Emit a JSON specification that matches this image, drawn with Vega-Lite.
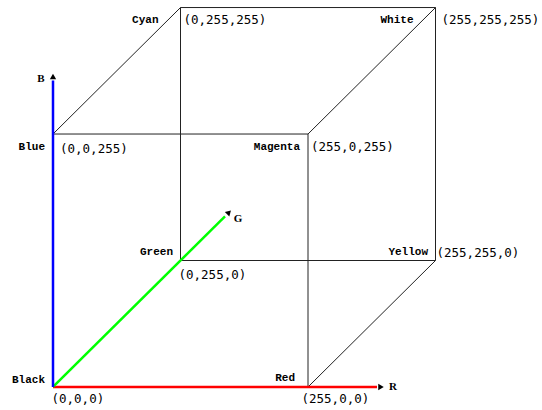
{
  "$schema": "https://vega.github.io/schema/vega-lite/v6.json",
  "description": "RGB colour cube in oblique projection: x = R + G/2, y = B + G/2",
  "width": 542,
  "height": 410,
  "autosize": {"type": "fit", "contains": "padding"},
  "padding": 0,
  "background": "white",
  "config": {"view": {"stroke": null}},
  "datasets": {
    "vertices": [
      {"name": "Black", "rgb": "(0,0,0)", "x": 0, "y": 0},
      {"name": "Red", "rgb": "(255,0,0)", "x": 255, "y": 0},
      {"name": "Blue", "rgb": "(0,0,255)", "x": 0, "y": 255},
      {"name": "Magenta", "rgb": "(255,0,255)", "x": 255, "y": 255},
      {"name": "Green", "rgb": "(0,255,0)", "x": 127.5, "y": 127.5},
      {"name": "Yellow", "rgb": "(255,255,0)", "x": 382.5, "y": 127.5},
      {"name": "Cyan", "rgb": "(0,255,255)", "x": 127.5, "y": 382.5},
      {"name": "White", "rgb": "(255,255,255)", "x": 382.5, "y": 382.5}
    ],
    "edges": [
      {"from": "Red", "to": "Magenta", "x": 255, "y": 0, "x2": 255, "y2": 255},
      {"from": "Red", "to": "Yellow", "x": 255, "y": 0, "x2": 382.5, "y2": 127.5},
      {"from": "Blue", "to": "Magenta", "x": 0, "y": 255, "x2": 255, "y2": 255},
      {"from": "Blue", "to": "Cyan", "x": 0, "y": 255, "x2": 127.5, "y2": 382.5},
      {"from": "Green", "to": "Yellow", "x": 127.5, "y": 127.5, "x2": 382.5, "y2": 127.5},
      {"from": "Green", "to": "Cyan", "x": 127.5, "y": 127.5, "x2": 127.5, "y2": 382.5},
      {"from": "Magenta", "to": "White", "x": 255, "y": 255, "x2": 382.5, "y2": 382.5},
      {"from": "Yellow", "to": "White", "x": 382.5, "y": 127.5, "x2": 382.5, "y2": 382.5},
      {"from": "Cyan", "to": "White", "x": 127.5, "y": 382.5, "x2": 382.5, "y2": 382.5}
    ],
    "axes": [
      {"axis": "R", "x": 0, "y": 0, "x2": 324, "y2": 0},
      {"axis": "G", "x": 0, "y": 0, "x2": 172, "y2": 172},
      {"axis": "B", "x": 0, "y": 0, "x2": 0, "y2": 309}
    ],
    "heads": [
      {"axis": "R", "x": 328, "y": 0},
      {"axis": "G", "x": 176, "y": 176},
      {"axis": "B", "x": 0, "y": 313}
    ]
  },
  "encoding": {
    "x": {"field": "x", "type": "quantitative", "axis": null,
          "scale": {"domain": [-53, 489], "nice": false, "zero": false}},
    "y": {"field": "y", "type": "quantitative", "axis": null,
          "scale": {"domain": [-23.2, 390.1], "nice": false, "zero": false}}
  },
  "layer": [
    {
      "data": {"name": "edges"},
      "mark": {"type": "rule", "color": "#222222", "strokeWidth": 1},
      "encoding": {"x2": {"field": "x2"}, "y2": {"field": "y2"}}
    },
    {
      "data": {"name": "axes"},
      "mark": {"type": "rule", "strokeWidth": 2.5},
      "encoding": {
        "x2": {"field": "x2"},
        "y2": {"field": "y2"},
        "color": {"field": "axis", "type": "nominal", "legend": null,
                  "scale": {"domain": ["R", "G", "B"], "range": ["#ff0000", "#00ff00", "#0000ff"]}}
      }
    },
    {
      "data": {"name": "heads"},
      "transform": [{"filter": "datum.axis == 'R'"}],
      "mark": {"type": "point", "shape": "triangle-right", "filled": true, "color": "black", "opacity": 1, "size": 40}
    },
    {
      "data": {"name": "heads"},
      "transform": [{"filter": "datum.axis == 'B'"}],
      "mark": {"type": "point", "shape": "triangle-up", "filled": true, "color": "black", "opacity": 1, "size": 40}
    },
    {
      "data": {"name": "heads"},
      "transform": [{"filter": "datum.axis == 'G'"}],
      "mark": {"type": "point", "shape": "triangle-up", "angle": 45, "filled": true, "color": "black", "opacity": 1, "size": 40}
    },
    {
      "data": {"name": "heads"},
      "transform": [{"filter": "datum.axis == 'B'"}],
      "mark": {"type": "text", "font": "Liberation Serif", "fontWeight": "bold", "fontSize": 11, "align": "center", "baseline": "middle", "dx": -12, "dy": 3, "color": "black"},
      "encoding": {"text": {"field": "axis"}}
    },
    {
      "data": {"name": "heads"},
      "transform": [{"filter": "datum.axis == 'G'"}],
      "mark": {"type": "text", "font": "Liberation Serif", "fontWeight": "bold", "fontSize": 11, "align": "center", "baseline": "middle", "dx": 9, "dy": 7, "color": "black"},
      "encoding": {"text": {"field": "axis"}}
    },
    {
      "data": {"name": "heads"},
      "transform": [{"filter": "datum.axis == 'R'"}],
      "mark": {"type": "text", "font": "Liberation Serif", "fontWeight": "bold", "fontSize": 11, "align": "center", "baseline": "middle", "dx": 12, "dy": 0, "color": "black"},
      "encoding": {"text": {"field": "axis"}}
    },
    {
      "data": {"name": "vertices"},
      "transform": [{"filter": "datum.name == 'Cyan' || datum.name == 'White'"}],
      "mark": {"type": "text", "font": "Liberation Mono", "fontWeight": "bold", "fontSize": 11, "align": "right", "baseline": "middle", "dx": -22, "dy": 12, "color": "black"},
      "encoding": {"text": {"field": "name"}}
    },
    {
      "data": {"name": "vertices"},
      "transform": [{"filter": "datum.name == 'Blue' || datum.name == 'Magenta'"}],
      "mark": {"type": "text", "font": "Liberation Mono", "fontWeight": "bold", "fontSize": 11, "align": "right", "baseline": "middle", "dx": -8, "dy": 12.5, "color": "black"},
      "encoding": {"text": {"field": "name"}}
    },
    {
      "data": {"name": "vertices"},
      "transform": [{"filter": "datum.name == 'Green' || datum.name == 'Yellow'"}],
      "mark": {"type": "text", "font": "Liberation Mono", "fontWeight": "bold", "fontSize": 11, "align": "right", "baseline": "middle", "dx": -7.5, "dy": -9, "color": "black"},
      "encoding": {"text": {"field": "name"}}
    },
    {
      "data": {"name": "vertices"},
      "transform": [{"filter": "datum.name == 'Black'"}],
      "mark": {"type": "text", "font": "Liberation Mono", "fontWeight": "bold", "fontSize": 11, "align": "right", "baseline": "middle", "dx": -8, "dy": -7, "color": "black"},
      "encoding": {"text": {"field": "name"}}
    },
    {
      "data": {"name": "vertices"},
      "transform": [{"filter": "datum.name == 'Red'"}],
      "mark": {"type": "text", "font": "Liberation Mono", "fontWeight": "bold", "fontSize": 11, "align": "right", "baseline": "middle", "dx": -13, "dy": -9, "color": "black"},
      "encoding": {"text": {"field": "name"}}
    },
    {
      "data": {"name": "vertices"},
      "transform": [{"filter": "datum.name == 'Cyan' || datum.name == 'Magenta'"}],
      "mark": {"type": "text", "font": "DejaVu Sans Mono", "fontSize": 12.5, "align": "left", "baseline": "middle", "dx": 3, "dy": 12.5, "color": "black"},
      "encoding": {"text": {"field": "rgb"}}
    },
    {
      "data": {"name": "vertices"},
      "transform": [{"filter": "datum.name == 'White'"}],
      "mark": {"type": "text", "font": "DejaVu Sans Mono", "fontSize": 12.5, "align": "left", "baseline": "middle", "dx": 6, "dy": 12, "color": "black"},
      "encoding": {"text": {"field": "rgb"}}
    },
    {
      "data": {"name": "vertices"},
      "transform": [{"filter": "datum.name == 'Blue'"}],
      "mark": {"type": "text", "font": "DejaVu Sans Mono", "fontSize": 12.5, "align": "left", "baseline": "middle", "dx": 7, "dy": 15, "color": "black"},
      "encoding": {"text": {"field": "rgb"}}
    },
    {
      "data": {"name": "vertices"},
      "transform": [{"filter": "datum.name == 'Green'"}],
      "mark": {"type": "text", "font": "DejaVu Sans Mono", "fontSize": 12.5, "align": "left", "baseline": "middle", "dx": -2, "dy": 14.5, "color": "black"},
      "encoding": {"text": {"field": "rgb"}}
    },
    {
      "data": {"name": "vertices"},
      "transform": [{"filter": "datum.name == 'Black'"}],
      "mark": {"type": "text", "font": "DejaVu Sans Mono", "fontSize": 12.5, "align": "left", "baseline": "middle", "dx": -1.5, "dy": 12, "color": "black"},
      "encoding": {"text": {"field": "rgb"}}
    },
    {
      "data": {"name": "vertices"},
      "transform": [{"filter": "datum.name == 'Red'"}],
      "mark": {"type": "text", "font": "DejaVu Sans Mono", "fontSize": 12.5, "align": "left", "baseline": "middle", "dx": -6.5, "dy": 12, "color": "black"},
      "encoding": {"text": {"field": "rgb"}}
    },
    {
      "data": {"name": "vertices"},
      "transform": [{"filter": "datum.name == 'Yellow'"}],
      "mark": {"type": "text", "font": "DejaVu Sans Mono", "fontSize": 12.5, "align": "left", "baseline": "middle", "dx": 1, "dy": -8, "color": "black"},
      "encoding": {"text": {"field": "rgb"}}
    }
  ]
}
